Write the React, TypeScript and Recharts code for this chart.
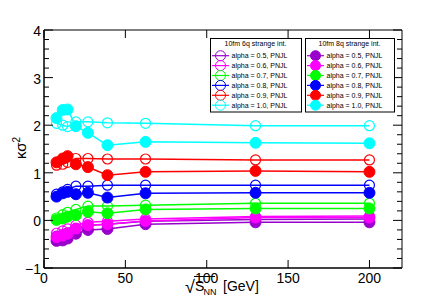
import { ComposedChart, Line, XAxis, YAxis, Legend, ReferenceArea } from "recharts";

// sqrt(s_NN) values
const energies = [7.7, 11.5, 14.5, 19.6, 27, 39, 62.4, 130, 200];

const alphas = ["0.5", "0.6", "0.7", "0.8", "0.9", "1.0"];
const colors = ["#9900cc", "#ff00ff", "#00ff00", "#0000ff", "#ff0000", "#00ffff"];

// 10fm 6q strange int. (open markers)
const q6_a05 = [-0.33, -0.3, -0.26, -0.17, -0.1, -0.08, -0.02, 0.02, 0.03];
const q6_a06 = [-0.27, -0.22, -0.18, -0.1, -0.04, -0.02, 0.03, 0.08, 0.09];
const q6_a07 = [0.05, 0.12, 0.17, 0.23, 0.3, 0.3, 0.32, 0.36, 0.36];
const q6_a08 = [0.55, 0.6, 0.65, 0.72, 0.72, 0.74, 0.74, 0.74, 0.74];
const q6_a09 = [1.16, 1.18, 1.22, 1.3, 1.3, 1.29, 1.29, 1.27, 1.27];
const q6_a10 = [2.04, 2.0, 1.97, 2.07, 2.07, 2.05, 2.04, 1.99, 1.99];

// 10fm 8q strange int. (filled markers)
const q8_a05 = [-0.43, -0.42, -0.38, -0.28, -0.2, -0.18, -0.08, -0.04, -0.04];
const q8_a06 = [-0.35, -0.32, -0.28, -0.17, -0.1, -0.08, -0.01, 0.06, 0.06];
const q8_a07 = [0.01, 0.04, 0.08, 0.11, 0.18, 0.15, 0.23, 0.25, 0.25];
const q8_a08 = [0.5, 0.57, 0.6, 0.55, 0.58, 0.48, 0.57, 0.58, 0.58];
const q8_a09 = [1.22, 1.3, 1.35, 1.18, 1.12, 0.95, 1.02, 1.04, 1.02];
const q8_a10 = [2.15, 2.32, 2.33, 1.98, 1.84, 1.58, 1.65, 1.63, 1.62];

const xTicks = [0, 50, 100, 150, 200];
const yTicks = [
  -1, -0.8, -0.6, -0.4, -0.2, 0, 0.2, 0.4, 0.6, 0.8, 1, 1.2, 1.4, 1.6, 1.8, 2,
  2.2, 2.4, 2.6, 2.8, 3, 3.2, 3.4, 3.6, 3.8, 4,
];

const open6q = [q6_a05, q6_a06, q6_a07, q6_a08, q6_a09, q6_a10];
const filled8q = [q8_a05, q8_a06, q8_a07, q8_a08, q8_a09, q8_a10];

const rows = energies.map((e, i) => {
  const r: Record<string, number> = { e };
  alphas.forEach((_, k) => {
    r[`o${k}`] = open6q[k][i];
    r[`f${k}`] = filled8q[k][i];
  });
  return r;
});

const W = 447;
const H = 300;
const PL = 44;
const PR = 402;
const PT = 30;
const PB = 268;
const FONT = '"Liberation Sans", Arial, Helvetica, sans-serif';

function YTick(props: any) {
  const { y, payload } = props;
  const v = payload.value;
  const major = Math.abs(v - Math.round(v)) < 1e-6;
  const len = major ? 9 : 5;
  const label = v < 0 ? "\u2212" + Math.abs(v) : String(v);
  return (
    <g>
      <line x1={PL} x2={PL + len} y1={y} y2={y} stroke="#000" />
      <line x1={PR} x2={PR - len} y1={y} y2={y} stroke="#000" />
      {major && (
        <text x={PL - 3} y={y + 6} textAnchor="end" fontSize={14} fontFamily={FONT} fill="#000">
          {label}
        </text>
      )}
    </g>
  );
}

function XTick(props: any) {
  const { x, payload } = props;
  return (
    <g>
      <line x1={x} x2={x} y1={PB} y2={PB - 8} stroke="#000" />
      <line x1={x} x2={x} y1={PT} y2={PT + 8} stroke="#000" />
      <text x={x} y={PB + 15} textAnchor="middle" fontSize={14} fontFamily={FONT} fill="#000">
        {payload.value}
      </text>
    </g>
  );
}

const boxes = [
  { x: 210, w: 91, title: "10fm 6q strange int.", filled: false },
  { x: 305, w: 89, title: "10fm 8q strange int.", filled: true },
];

function LegendBoxes() {
  return (
    <svg width={W} height={H} style={{ display: "block" }}>
      {boxes.map((b) => (
        <g key={b.title}>
          <rect x={b.x + 0.5} y={38.5} width={b.w} height={73.5} fill="#fff" stroke="#000" />
          <text x={b.x + b.w / 2} y={45.5} textAnchor="middle" fontSize={7} fontFamily={FONT} fill="#000">
            {b.title}
          </text>
          {alphas.map((a, k) => {
            const cy = 55.7 + k * 9.9;
            return (
              <g key={a}>
                <line x1={b.x + 2} x2={b.x + 19} y1={cy} y2={cy} stroke={colors[k]} strokeWidth={1.2} />
                <circle
                  cx={b.x + 10.5}
                  cy={cy}
                  r={5}
                  fill={b.filled ? colors[k] : "none"}
                  stroke={colors[k]}
                  strokeWidth={1}
                />
                <text x={b.x + 21.5} y={cy + 2.5} fontSize={7} fontFamily={FONT} fill="#000">
                  {`alpha = ${a}, PNJL`}
                </text>
              </g>
            );
          })}
        </g>
      ))}
    </svg>
  );
}

export default function App() {
  return (
    <div style={{ position: "absolute", left: 0, top: 0, width: W, height: H, background: "#fff" }}>
      <ComposedChart width={W} height={H} data={rows} margin={{ top: PT, right: W - PR, bottom: 0, left: 0 }}>
        <XAxis
          dataKey="e"
          type="number"
          domain={[0, 220]}
          ticks={xTicks}
          interval={0}
          height={H - PB}
          allowDataOverflow
          tickLine={false}
          axisLine={{ stroke: "#000" }}
          tick={<XTick />}
        />
        <YAxis
          type="number"
          domain={[-1, 4]}
          ticks={yTicks}
          interval={0}
          width={PL}
          allowDataOverflow
          tickLine={false}
          axisLine={{ stroke: "#000" }}
          tick={<YTick />}
        />
        <ReferenceArea x1={0} x2={220} y1={-1} y2={4} fill="none" stroke="#000" ifOverflow="visible" />
        {alphas.map((a, k) => (
          <Line
            key={`o${k}`}
            dataKey={`o${k}`}
            name={`alpha = ${a}, PNJL (6q)`}
            stroke={colors[k]}
            strokeWidth={1.5}
            dot={{ r: 5, fill: "none", stroke: colors[k], strokeWidth: 1.2 }}
            activeDot={false}
            isAnimationActive={false}
          />
        ))}
        {alphas.map((a, k) => (
          <Line
            key={`f${k}`}
            dataKey={`f${k}`}
            name={`alpha = ${a}, PNJL (8q)`}
            stroke={colors[k]}
            strokeWidth={1.5}
            dot={{ r: 5.5, fill: colors[k], stroke: colors[k], strokeWidth: 1 }}
            activeDot={false}
            isAnimationActive={false}
          />
        ))}
        <Legend
          layout="horizontal"
          align="center"
          verticalAlign="middle"
          content={<LegendBoxes />}
          wrapperStyle={{ left: 0, top: 0, width: W, height: H, pointerEvents: "none" }}
        />
      </ComposedChart>
      <svg
        width={W}
        height={H}
        style={{ position: "absolute", left: 0, top: 0, pointerEvents: "none" }}
        fontFamily={FONT}
      >
        <text transform="translate(26,148) rotate(-90)" textAnchor="middle" fontSize={15} fill="#000">
          κσ<tspan fontSize={10} dy={-6}>2</tspan>
        </text>
        <text x={185} y={293} fontSize={18} fill="#000">√</text>
        <line x1={194} x2={215} y1={276.5} y2={276.5} stroke="#000" strokeWidth={1} />
        <text x={195} y={291} fontSize={14} fill="#000">S</text>
        <text x={203.5} y={295} fontSize={9} fill="#000">NN</text>
        <text x={223} y={291} fontSize={14} fill="#000">[GeV]</text>
      </svg>
    </div>
  );
}
